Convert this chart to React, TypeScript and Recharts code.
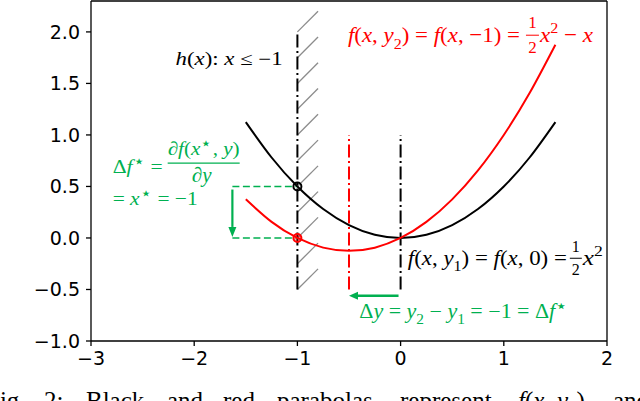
import React from 'react';
import { ComposedChart, Line, XAxis, YAxis, ReferenceLine, ReferenceDot } from 'recharts';

// ---- data ----
const curveX = [-1.5, -1.25, -1, -0.75, -0.5, -0.25, 0, 0.25, 0.5, 0.75, 1, 1.25, 1.5];
const blackY = [1.125, 0.781, 0.5, 0.281, 0.125, 0.031, 0, 0.031, 0.125, 0.281, 0.5, 0.781, 1.125];
const redY = [0.375, 0.156, 0, -0.094, -0.125, -0.094, 0, 0.156, 0.375, 0.656, 1.0, 1.406, 1.875];
const xTicks = [-3, -2, -1, 0, 1, 2];
const yTicks = [-1, -0.5, 0, 0.5, 1, 1.5, 2];
const xDomain = [-3, 2];
const yDomain = [-1, 2.3];
const hatchY = [-0.5, -0.25, 0, 0.25, 0.5, 0.75, 1, 1.25, 1.5, 1.75, 2];
const hatchX = [-1, -0.8];
const hatchRise = 0.2;
const blackVLines = [
  { x: -1, y0: -0.5, y1: 2.0 },
  { x: 0, y0: -0.5, y1: 1.0 },
];
const redVLines = [{ x: -0.5, y0: -0.5, y1: 1.0 }];
const blackMarker = { x: -1, y: 0.5 };
const redMarker = { x: -1, y: 0 };
const greenDashY = [0.5, 0];
const greenDashX = [-1.63, -1];
const downArrow = { x: -1.63, from: 0.47, to: 0.01 };
const leftArrow = { y: -0.56, from: -0.02, to: -0.5 };

const blackData = curveX.map((x, i) => ({ x, y: blackY[i] }));
const redData = curveX.map((x, i) => ({ x, y: redY[i] }));

// ---- style ----
const RED = '#ff0000';
const GREEN = '#00b050';
const GRAY = '#8c8c8c';
const MATH = 'Liberation Serif';
const DASHDOT = '13 3.5 2 3.5';

const fmtY = (v: number) => (v < 0 ? '\u2212' : '') + Math.abs(v).toFixed(1);
const fmtX = (v: number) => (v < 0 ? '\u2212' : '') + Math.abs(v).toString();

type Seg = { t: string; i?: boolean; s?: 'sub' | 'sup' | 'star' };

function segs(list: Seg[], fs: number) {
  let shift = 0;
  return list.map((sg, k) => {
    const target = sg.s === 'sub' ? fs * 0.3 : sg.s === 'sup' ? -fs * 0.4 : sg.s === 'star' ? -fs * 0.3 : 0;
    const dy = target - shift;
    shift = target;
    const size = sg.s === 'star' ? fs * 0.9 : sg.s ? fs * 0.7 : fs;
    return (
      <tspan key={k} dy={dy !== 0 ? dy : undefined} fontStyle={sg.i ? 'italic' : 'normal'} fontSize={size}>
        {sg.t}
      </tspan>
    );
  });
}

function MText(props: { x: number; y: number; list: Seg[]; fs: number; color: string; width?: number; anchor?: string }) {
  const { x, y, list, fs, color, width, anchor } = props;
  return (
    <text
      x={x}
      y={y}
      fill={color}
      fontFamily={MATH}
      fontSize={fs}
      textAnchor={anchor || 'start'}
      textLength={width}
      lengthAdjust={width ? 'spacingAndGlyphs' : undefined}
      style={{ whiteSpace: 'pre' }}
    >
      {segs(list, fs)}
    </text>
  );
}

const arrowShape = (color: string, w: number, head: number, headW: number) => (p: any) => {
  const { x1, y1, x2, y2 } = p;
  const dx = x2 - x1;
  const dy = y2 - y1;
  const L = Math.hypot(dx, dy) || 1;
  const ux = dx / L;
  const uy = dy / L;
  const bx = x2 - ux * head;
  const by = y2 - uy * head;
  const px = -uy;
  const py = ux;
  return (
    <g>
      <line x1={x1} y1={y1} x2={bx} y2={by} stroke={color} strokeWidth={w} />
      <polygon points={`${x2},${y2} ${bx + px * headW},${by + py * headW} ${bx - px * headW},${by - py * headW}`} fill={color} />
    </g>
  );
};

const STAR = '\u22c6';

// ---- annotation blocks ----
const HText = (p: any) => (
  <MText
    x={p.cx}
    y={p.cy}
    fs={18}
    color="#000"
    width={107}
    list={[{ t: 'h', i: true }, { t: '(' }, { t: 'x', i: true }, { t: '): ' }, { t: 'x', i: true }, { t: ' \u2264 \u22121' }]}
  />
);

const RedText = (p: any) => {
  const { cx, cy } = p;
  return (
    <g>
      <MText
        x={cx}
        y={cy}
        fs={22}
        color={RED}
        width={172}
        list={[
          { t: 'f', i: true }, { t: '(' }, { t: 'x', i: true }, { t: ', ' }, { t: 'y', i: true }, { t: '2', s: 'sub' },
          { t: ') = ' }, { t: 'f', i: true }, { t: '(' }, { t: 'x', i: true }, { t: ', \u22121) =' },
        ]}
      />
      <text x={cx + 184.5} y={cy - 14} fill={RED} fontFamily={MATH} fontSize={17} textAnchor="middle">1</text>
      <line x1={cx + 178} x2={cx + 191} y1={cy - 7} y2={cy - 7} stroke={RED} strokeWidth={1} />
      <text x={cx + 184.5} y={cy + 11} fill={RED} fontFamily={MATH} fontSize={17} textAnchor="middle">2</text>
      <MText
        x={cx + 192}
        y={cy}
        fs={22}
        color={RED}
        width={53}
        list={[{ t: 'x', i: true }, { t: '2', s: 'sup' }, { t: ' \u2212 ' }, { t: 'x', i: true }]}
      />
    </g>
  );
};

const BlackText = (p: any) => {
  const { cx, cy } = p;
  return (
    <g>
      <MText
        x={cx}
        y={cy}
        fs={21}
        color="#000"
        width={159}
        list={[
          { t: 'f', i: true }, { t: '(' }, { t: 'x', i: true }, { t: ', ' }, { t: 'y', i: true }, { t: '1', s: 'sub' },
          { t: ') = ' }, { t: 'f', i: true }, { t: '(' }, { t: 'x', i: true }, { t: ', 0) =' },
        ]}
      />
      <text x={cx + 168} y={cy - 13} fill="#000" fontFamily={MATH} fontSize={16} textAnchor="middle">1</text>
      <line x1={cx + 162} x2={cx + 174} y1={cy - 6.5} y2={cy - 6.5} stroke="#000" strokeWidth={1} />
      <text x={cx + 168} y={cy + 10} fill="#000" fontFamily={MATH} fontSize={16} textAnchor="middle">2</text>
      <MText x={cx + 175} y={cy} fs={21} color="#000" width={20} list={[{ t: 'x', i: true }, { t: '2', s: 'sup' }]} />
    </g>
  );
};

const GreenDfText = (p: any) => {
  const { cx, cy } = p;
  return (
    <g>
      <MText x={cx} y={cy} fs={19} color={GREEN} width={50} list={[{ t: '\u0394' }, { t: 'f', i: true }, { t: STAR, s: 'star' }, { t: ' =' }]} />
      <MText
        x={cx + 55}
        y={cy - 18}
        fs={19}
        color={GREEN}
        width={72}
        list={[{ t: '\u2202' }, { t: 'f', i: true }, { t: '(' }, { t: 'x', i: true }, { t: STAR, s: 'star' }, { t: ', ' }, { t: 'y', i: true }, { t: ')' }]}
      />
      <line x1={cx + 55} x2={cx + 127} y1={cy - 10} y2={cy - 10} stroke={GREEN} strokeWidth={1.2} />
      <MText x={cx + 89} y={cy + 9} fs={21} color={GREEN} anchor="middle" list={[{ t: '\u2202' }, { t: 'y', i: true }]} />
      <MText x={cx} y={cy + 32} fs={19} color={GREEN} width={85} list={[{ t: '= ' }, { t: 'x', i: true }, { t: STAR, s: 'star' }, { t: ' = \u22121' }]} />
    </g>
  );
};

const GreenDyText = (p: any) => (
  <MText
    x={p.cx}
    y={p.cy}
    fs={20}
    color={GREEN}
    width={208}
    list={[
      { t: '\u0394' }, { t: 'y', i: true }, { t: ' = ' }, { t: 'y', i: true }, { t: '2', s: 'sub' }, { t: ' \u2212 ' },
      { t: 'y', i: true }, { t: '1', s: 'sub' }, { t: ' = \u22121 = \u0394' }, { t: 'f', i: true }, { t: STAR, s: 'star' },
    ]}
  />
);

const textAnchors = {
  h: { x: -2.18, y: 1.68 },
  red: { x: -0.51, y: 1.9 },
  black: { x: 0.07, y: -0.26 },
  df: { x: -2.79, y: 0.63 },
  dy: { x: -0.4, y: -0.78 },
};

const captionWords = [
  { t: 'Fig.', x: -14 },
  { t: '2:', x: 44 },
  { t: 'Black', x: 86 },
  { t: 'and', x: 167 },
  { t: 'red', x: 223 },
  { t: 'parabolas', x: 277 },
  { t: 'represent', x: 400 },
  { t: 'and', x: 613 },
];

export default function App() {
  const tickStyle = { fill: '#000', fontSize: 19, fontFamily: 'DejaVu Sans' };
  return (
    <div style={{ position: 'absolute', left: 0, top: 0, width: 640, height: 401, background: '#fff', overflow: 'hidden' }}>
      <ComposedChart width={640} height={401} margin={{ top: 1, right: 33, bottom: 0, left: 0 }}>
        <XAxis
          dataKey="x"
          type="number"
          domain={xDomain}
          ticks={xTicks}
          interval={0}
          allowDataOverflow
          tickFormatter={fmtX}
          tick={tickStyle}
          tickSize={5}
          tickMargin={6}
          height={60}
          stroke="#000"
          strokeWidth={1.3}
        />
        <YAxis
          type="number"
          domain={yDomain}
          ticks={yTicks}
          interval={0}
          allowDataOverflow
          tickFormatter={fmtY}
          tick={tickStyle}
          tickSize={5}
          tickMargin={6}
          width={91}
          stroke="#000"
          strokeWidth={1.3}
        />
        <ReferenceLine y={yDomain[1]} stroke="#000" strokeWidth={1.3} />
        <ReferenceLine x={xDomain[1]} stroke="#000" strokeWidth={1.3} />

        {hatchY.map((y) => (
          <ReferenceLine
            key={'h' + y}
            segment={[{ x: hatchX[0], y }, { x: hatchX[1], y: y + hatchRise }]}
            stroke={GRAY}
            strokeWidth={1.3}
          />
        ))}
        {blackVLines.map((l) => (
          <ReferenceLine
            key={'bv' + l.x}
            segment={[{ x: l.x, y: l.y0 }, { x: l.x, y: l.y1 }]}
            stroke="#000"
            strokeWidth={2}
            strokeDasharray={DASHDOT}
          />
        ))}
        {redVLines.map((l) => (
          <ReferenceLine
            key={'rv' + l.x}
            segment={[{ x: l.x, y: l.y0 }, { x: l.x, y: l.y1 }]}
            stroke={RED}
            strokeWidth={2}
            strokeDasharray={DASHDOT}
          />
        ))}
        {greenDashY.map((y) => (
          <ReferenceLine
            key={'gd' + y}
            segment={[{ x: greenDashX[0], y }, { x: greenDashX[1], y }]}
            stroke={GREEN}
            strokeWidth={1.6}
            strokeDasharray="7 3.5"
          />
        ))}
        <ReferenceLine
          segment={[{ x: downArrow.x, y: downArrow.from }, { x: downArrow.x, y: downArrow.to }]}
          stroke={GREEN}
          shape={arrowShape(GREEN, 2.2, 10, 4)}
        />
        <ReferenceLine
          segment={[{ x: leftArrow.from, y: leftArrow.y }, { x: leftArrow.to, y: leftArrow.y }]}
          stroke={GREEN}
          shape={arrowShape(GREEN, 2.5, 9, 4)}
        />

        <Line data={blackData} dataKey="y" type="natural" stroke="#000" strokeWidth={2} dot={false} isAnimationActive={false} />
        <Line data={redData} dataKey="y" type="natural" stroke={RED} strokeWidth={2} dot={false} isAnimationActive={false} />

        <ReferenceDot x={blackMarker.x} y={blackMarker.y} r={4} fill="none" stroke="#000" strokeWidth={2} />
        <ReferenceDot x={redMarker.x} y={redMarker.y} r={4} fill="rgba(255,0,0,0.35)" stroke={RED} strokeWidth={2} />

        <ReferenceDot x={textAnchors.h.x} y={textAnchors.h.y} r={0} ifOverflow="visible" shape={HText} />
        <ReferenceDot x={textAnchors.red.x} y={textAnchors.red.y} r={0} ifOverflow="visible" shape={RedText} />
        <ReferenceDot x={textAnchors.black.x} y={textAnchors.black.y} r={0} ifOverflow="visible" shape={BlackText} />
        <ReferenceDot x={textAnchors.df.x} y={textAnchors.df.y} r={0} ifOverflow="visible" shape={GreenDfText} />
        <ReferenceDot x={textAnchors.dy.x} y={textAnchors.dy.y} r={0} ifOverflow="visible" shape={GreenDyText} />
      </ComposedChart>
      <svg width={640} height={401} style={{ position: 'absolute', left: 0, top: 0, pointerEvents: 'none' }}>
        {captionWords.map((w) => (
          <text key={w.t + w.x} x={w.x} y={409} fontFamily="Liberation Serif" fontSize={25} fill="#000">
            {w.t}
          </text>
        ))}
        <text x={518} y={409} fontFamily="Liberation Serif" fontSize={25} fill="#000">
          <tspan fontStyle="italic">f</tspan>
          <tspan>(</tspan>
          <tspan fontStyle="italic">x, y</tspan>
          <tspan fontSize={17} dy={5}>1</tspan>
          <tspan dy={-5}>)</tspan>
        </text>
      </svg>
    </div>
  );
}
